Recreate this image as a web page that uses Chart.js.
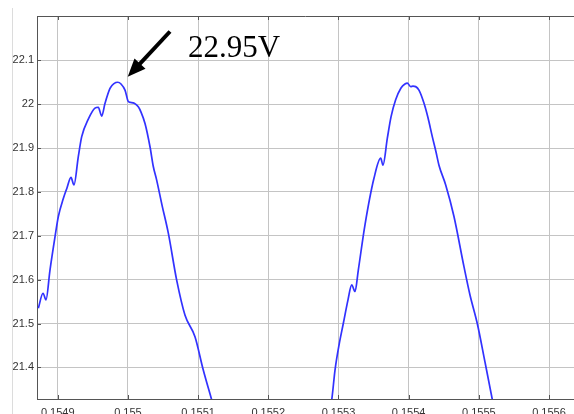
<!DOCTYPE html>
<html>
<head>
<meta charset="utf-8">
<script src="https://cdn.jsdelivr.net/npm/chart.js@4/dist/chart.umd.min.js"></script>
<style>
  html, body { margin: 0; padding: 0; background: #fff; overflow: hidden; }
  #wrap { width: 574px; height: 414px; position: relative; }
</style>
</head>
<body>
<div id="wrap"><canvas id="c" width="574" height="414"></canvas></div>
<script>
// ---- data (time in s, voltage in V) ----
const peak1Time = [0.1548724, 0.1548791, 0.1548833, 0.154889, 0.1548962, 0.1549009, 0.154908, 0.1549132,
  0.1549189, 0.1549232, 0.1549293, 0.1549342, 0.1549436, 0.1549531, 0.1549578, 0.1549627, 0.1549674,
  0.1549745, 0.1549802, 0.1549855, 0.1549902, 0.1549959, 0.1550006, 0.1550037, 0.1550091, 0.1550148,
  0.1550187, 0.1550244, 0.1550315, 0.1550362, 0.155041, 0.1550486, 0.1550576, 0.1550695, 0.1550814,
  0.1550956, 0.1551074, 0.1551194, 0.1551234];
const peak1Volt = [21.535, 21.569, 21.554, 21.622, 21.698, 21.744, 21.785, 21.809,
  21.833, 21.816, 21.880, 21.926, 21.966, 21.991, 21.993, 21.973, 22.002,
  22.036, 22.047, 22.050, 22.046, 22.032, 22.006, 22.004, 22.002, 21.994,
  21.982, 21.956, 21.903, 21.858, 21.827, 21.770, 21.706, 21.599, 21.519,
  21.470, 21.394, 21.326, 21.303];
const peak2Time = [0.1552872, 0.1552904, 0.1552951, 0.1553008, 0.1553069, 0.1553136, 0.1553189, 0.1553236,
  0.1553283, 0.1553378, 0.1553506, 0.1553602, 0.1553634, 0.1553696, 0.1553749, 0.1553815, 0.1553891,
  0.1553948, 0.1553981, 0.1554029, 0.1554062, 0.15541, 0.1554147, 0.1554219, 0.1554276, 0.1554337,
  0.155439, 0.1554432, 0.1554528, 0.1554646, 0.1554789, 0.1554874, 0.1554978, 0.1555088, 0.1555192,
  0.155522];
const peak2Volt = [21.303, 21.326, 21.394, 21.451, 21.500, 21.554, 21.588, 21.573,
  21.622, 21.725, 21.831, 21.877, 21.861, 21.922, 21.971, 22.010, 22.037,
  22.046, 22.048, 22.040, 22.041, 22.040, 22.032, 22.002, 21.969, 21.926,
  21.891, 21.861, 21.816, 21.744, 21.629, 21.565, 21.500, 21.412, 21.327,
  21.303];
const xTicks = [0.1549, 0.155, 0.1551, 0.1552, 0.1553, 0.1554, 0.1555, 0.1556];
const yTicks = [21.4, 21.5, 21.6, 21.7, 21.8, 21.9, 22, 22.1];
const xRange = [0.1548705, 0.1556356];
const yRange = [21.328, 22.201];
const annotationText = '22.95V';

const toPoints = (xs, ys) => xs.map((x, i) => ({ x: x, y: ys[i] }));

const decor = {
  id: 'decor',
  beforeDraw(chart) {
    const ctx = chart.ctx;
    ctx.save();
    ctx.fillStyle = '#fff';
    ctx.fillRect(0, 0, chart.width, chart.height);
    // faint figure edge
    ctx.strokeStyle = '#dcdcdc';
    ctx.lineWidth = 1;
    ctx.beginPath();
    ctx.moveTo(12.5, 8);
    ctx.lineTo(12.5, chart.height);
    ctx.stroke();
    ctx.restore();
  },
  afterDatasetsDraw(chart) {
    const ctx = chart.ctx;
    const a = chart.chartArea;
    const xs = chart.scales.x, ys = chart.scales.y;
    ctx.save();
    // top border
    ctx.strokeStyle = '#555';
    ctx.lineWidth = 1;
    ctx.beginPath();
    ctx.moveTo(a.left, a.top + 0.5);
    ctx.lineTo(a.right, a.top + 0.5);
    ctx.stroke();
    // inward tick marks
    ctx.strokeStyle = '#555';
    ctx.beginPath();
    xTicks.forEach(v => {
      const px = Math.round(xs.getPixelForValue(v)) + 0.5;
      ctx.moveTo(px, a.top); ctx.lineTo(px, a.top + 4);
      ctx.moveTo(px, a.bottom); ctx.lineTo(px, a.bottom - 4);
    });
    yTicks.forEach(v => {
      const py = Math.round(ys.getPixelForValue(v)) + 0.5;
      ctx.moveTo(a.left, py); ctx.lineTo(a.left + 4, py);
    });
    ctx.stroke();

    // annotation arrow
    const tipX = 127.7, tipY = 76.7, tailX = 170, tailY = 31.5;
    const ang = Math.atan2(tipY - tailY, tipX - tailX);
    const headLen = 18, headHalf = 7.5;
    const bx = tipX - headLen * Math.cos(ang), by = tipY - headLen * Math.sin(ang);
    ctx.strokeStyle = '#000';
    ctx.lineWidth = 4;
    ctx.beginPath();
    ctx.moveTo(tailX, tailY);
    ctx.lineTo(bx + 2 * Math.cos(ang), by + 2 * Math.sin(ang));
    ctx.stroke();
    ctx.fillStyle = '#000';
    ctx.beginPath();
    ctx.moveTo(tipX, tipY);
    ctx.lineTo(bx + headHalf * Math.sin(ang), by - headHalf * Math.cos(ang));
    ctx.lineTo(bx - headHalf * Math.sin(ang), by + headHalf * Math.cos(ang));
    ctx.closePath();
    ctx.fill();

    ctx.font = '31px "Liberation Serif", "Times New Roman", serif';
    ctx.textBaseline = 'alphabetic';
    ctx.textAlign = 'left';
    ctx.fillText(annotationText, 188, 57);
    ctx.restore();
  }
};

new Chart(document.getElementById('c'), {
  type: 'line',
  data: {
    datasets: [
      { data: toPoints(peak1Time, peak1Volt) },
      { data: toPoints(peak2Time, peak2Volt) }
    ]
  },
  options: {
    responsive: false,
    animation: false,
    parsing: true,
    layout: { padding: { top: 16, left: 0, right: 0, bottom: 0 } },
    elements: {
      line: { borderColor: 'rgb(50,50,255)', borderWidth: 1.7, cubicInterpolationMode: 'monotone', fill: false },
      point: { radius: 0, hoverRadius: 0 }
    },
    plugins: { legend: { display: false }, tooltip: { enabled: false } },
    scales: {
      x: {
        type: 'linear',
        min: xRange[0], max: xRange[1],
        afterBuildTicks: s => { s.ticks = xTicks.map(v => ({ value: v })); },
        afterFit: s => { s.height = 15; },
        grid: { color: '#c4c4c4', lineWidth: 1, drawTicks: false },
        border: { display: true, color: '#555', width: 1 },
        ticks: {
          padding: 7, color: '#333', maxRotation: 0, autoSkip: false,
          font: { family: '"Liberation Sans", Arial, sans-serif', size: 11 },
          callback: v => String(v)
        }
      },
      y: {
        type: 'linear',
        min: yRange[0], max: yRange[1],
        afterBuildTicks: s => { s.ticks = yTicks.map(v => ({ value: v })); },
        afterFit: s => { s.width = 37; },
        grid: { color: '#c4c4c4', lineWidth: 1, drawTicks: false },
        border: { display: true, color: '#555', width: 1 },
        ticks: {
          padding: 3, color: '#333', autoSkip: false,
          font: { family: '"Liberation Sans", Arial, sans-serif', size: 11 },
          callback: v => String(v)
        }
      }
    }
  },
  plugins: [decor]
});
</script>
</body>
</html>
